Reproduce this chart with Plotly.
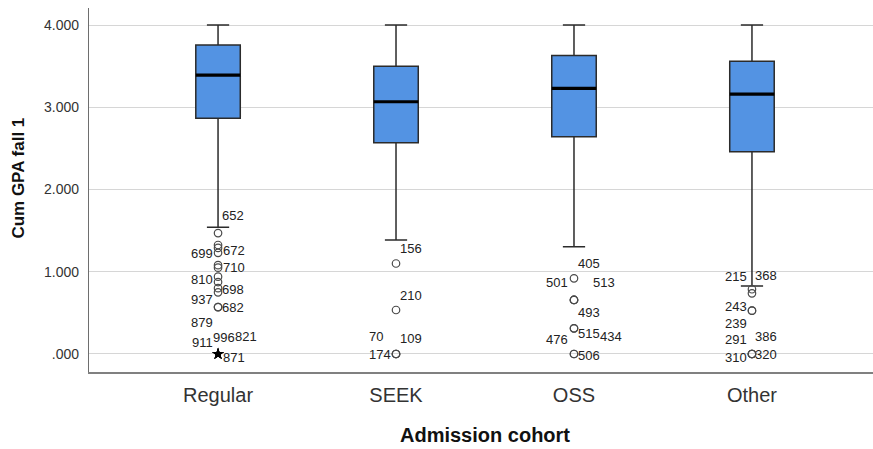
import plotly.graph_objects as go

# Admission cohorts and their box-plot summaries of cumulative GPA (fall 1)
categories = ["Regular", "SEEK", "OSS", "Other"]
q1 = [2.865, 2.57, 2.64, 2.46]
median = [3.392, 3.067, 3.23, 3.16]
q3 = [3.757, 3.50, 3.63, 3.56]
lower_whisker = [1.54, 1.386, 1.305, 0.827]
upper_whisker = [4.0, 4.0, 4.0, 4.0]

# Outliers (circles): case numbers and GPA values; "" = unlabelled case
regular_ids = ["652", "", "672", "699", "710", "", "810", "", "698", "937", "682", "879"]
regular_gpa = [1.47, 1.325, 1.29, 1.23, 1.08, 1.05, 0.94, 0.875, 0.80, 0.75, 0.57, 0.57]
seek_ids = ["156", "210", "70", "109", "174"]
seek_gpa = [1.10, 0.535, 0.0, 0.0, 0.0]
oss_ids = ["405", "501", "513", "493", "515", "434", "476", "506"]
oss_gpa = [0.92, 0.657, 0.657, 0.657, 0.312, 0.312, 0.0, 0.0]
other_ids = ["215", "368", "243", "239", "291", "386", "310", "320"]
other_gpa = [0.787, 0.738, 0.527, 0.527, 0.0, 0.0, 0.0, 0.0]

# Extreme values (stars)
regular_extreme_ids = ["911", "996", "821", "871"]
regular_extreme_gpa = [0.0, 0.0, 0.0, 0.0]

tick_vals = [0, 1, 2, 3, 4]
tick_text = [".000", "1.000", "2.000", "3.000", "4.000"]

# Label placement next to each case marker: (xanchor, x shift px, y shift px)
label_place = {
    "652": ("left", 4, 18), "672": ("left", 5, -3), "699": ("right", -5, -1),
    "710": ("left", 5, -2), "810": ("right", -5, -3), "698": ("left", 4, -1),
    "937": ("right", -5, -7), "682": ("left", 4, 0), "879": ("right", -5, -15),
    "911": ("right", -5, 11), "996": ("left", -5, 16), "821": ("left", 17, 17),
    "871": ("left", 5, -4),
    "156": ("left", 4, 15), "210": ("left", 4, 14), "70": ("right", -13, 17),
    "109": ("left", 4, 15), "174": ("right", -5, -1),
    "405": ("left", 4, 15), "501": ("right", -6, 17), "513": ("left", 19, 17),
    "493": ("left", 4, -13), "515": ("left", 4, -5), "434": ("left", 26, -8),
    "476": ("right", -6, 14), "506": ("left", 4, -2),
    "215": ("right", -5, 13), "368": ("left", 3, 18), "243": ("right", -5, 4),
    "239": ("right", -5, -13), "291": ("right", -5, 14), "386": ("left", 3, 17),
    "310": ("right", -5, -4), "320": ("left", 3, -1),
}

BOX_WIDTH = 0.25
BOX_FILL = "#5393E3"
EDGE = "#2b2b2b"
FONT = "Liberation Sans, Arial, sans-serif"

fig = go.Figure()

xpos = list(range(len(categories)))
fig.add_trace(go.Box(
    x=xpos, q1=q1, median=median, q3=q3,
    lowerfence=lower_whisker, upperfence=upper_whisker,
    width=BOX_WIDTH, whiskerwidth=0.5, boxpoints=False,
    fillcolor=BOX_FILL, line=dict(color=EDGE, width=1.5),
    hoverinfo="skip", showlegend=False,
))

# Heavier median bars drawn on top of each box
shapes = []
for i, m in enumerate(median):
    shapes.append(dict(
        type="line", xref="x", yref="y",
        x0=i - BOX_WIDTH / 2, x1=i + BOX_WIDTH / 2, y0=m, y1=m,
        line=dict(color="black", width=3.2),
    ))

outliers = [
    (0, regular_ids, regular_gpa),
    (1, seek_ids, seek_gpa),
    (2, oss_ids, oss_gpa),
    (3, other_ids, other_gpa),
]

ox, oy = [], []
for idx, ids, vals in outliers:
    ox += [idx] * len(vals)
    oy += vals
fig.add_trace(go.Scatter(
    x=ox, y=oy, mode="markers",
    marker=dict(symbol="circle-open", size=7.5, color="#4a4a4a", line=dict(width=1.2)),
    hoverinfo="skip", showlegend=False,
))
fig.add_trace(go.Scatter(
    x=[0] * len(regular_extreme_gpa), y=regular_extreme_gpa, mode="markers",
    marker=dict(symbol="star", size=9, color="black"),
    hoverinfo="skip", showlegend=False,
))

annotations = []
label_sets = outliers + [(0, regular_extreme_ids, regular_extreme_gpa)]
for idx, ids, vals in label_sets:
    for case, v in zip(ids, vals):
        if not case:
            continue
        anchor, dx, dy = label_place[case]
        annotations.append(dict(
            x=idx, y=v, xref="x", yref="y", text=case, showarrow=False,
            xanchor=anchor, yanchor="middle", xshift=dx, yshift=dy,
            font=dict(family=FONT, size=13, color="#222"),
            borderpad=0, borderwidth=0,
        ))

# Axis titles
annotations.append(dict(
    x=0.505, y=-0.173, xref="paper", yref="paper", text="<b>Admission cohort</b>",
    showarrow=False, xanchor="center", yanchor="middle",
    font=dict(family=FONT, size=20, color="#111"),
))
annotations.append(dict(
    x=-0.0893, y=0.534, xref="paper", yref="paper", text="<b>Cum GPA fall 1</b>",
    showarrow=False, xanchor="center", yanchor="middle", textangle=-90,
    font=dict(family=FONT, size=17, color="#111"),
))

fig.update_layout(
    width=873, height=449,
    margin=dict(l=89, r=0, t=8, b=77),
    paper_bgcolor="white", plot_bgcolor="white",
    shapes=shapes, annotations=annotations,
    font=dict(family=FONT, color="#333"),
    xaxis=dict(
        range=[-0.725, 3.68], tickmode="array", tickvals=xpos, ticktext=categories,
        showgrid=False, zeroline=False, showline=True, linecolor="#808080", linewidth=1.5,
        ticks="outside", ticklen=4, tickcolor="rgba(0,0,0,0)",
        tickfont=dict(size=20, color="#333"),
    ),
    yaxis=dict(
        range=[-0.219, 4.207], tickmode="array", tickvals=tick_vals, ticktext=tick_text,
        showgrid=True, gridcolor="#d6d6d6", gridwidth=1.2, zeroline=False,
        showline=True, linecolor="#6e6e6e", linewidth=1.2,
        ticks="outside", ticklen=6, tickcolor="rgba(0,0,0,0)",
        tickfont=dict(size=14, color="#333"),
    ),
)

fig.write_html("out.html")
